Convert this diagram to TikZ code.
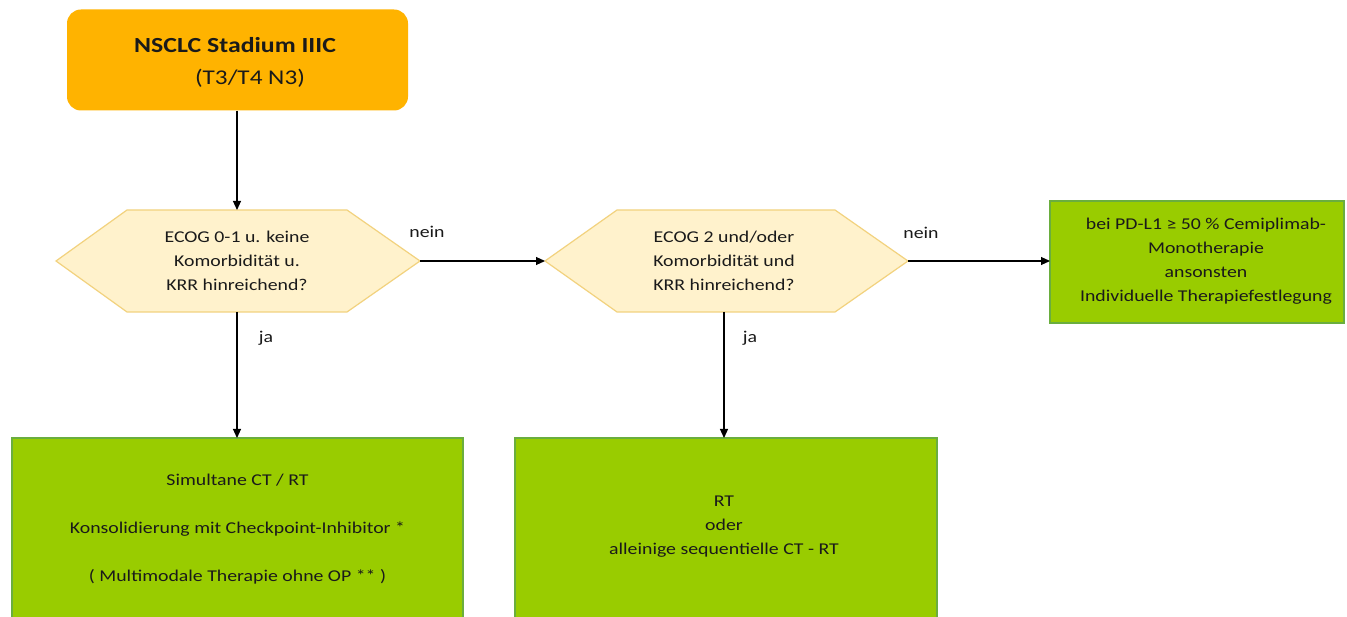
\documentclass[tikz,border=0pt]{standalone}
\usepackage{fontspec}
\setmainfont{Carlito}
\usetikzlibrary{arrows.meta,calc}
\definecolor{orangefill}{HTML}{FFB300}
\definecolor{hexfill}{HTML}{FFF2CC}
\definecolor{hexdraw}{HTML}{F2D27E}
\definecolor{greenfill}{HTML}{99CC00}
\definecolor{greendraw}{HTML}{6AAE3E}
\definecolor{txt}{HTML}{1A1A1A}
\tikzset{
  conn/.style={draw=black, line width=1.1pt, -{Triangle[length=9pt,width=8pt]}},
  hexshape/.style={fill=hexfill, draw=hexdraw, line width=1.2pt},
  greenbox/.style={fill=greenfill, draw=greendraw, line width=1.2pt},
  wide/.style={xscale=1.2, transform shape},
  smalltext/.style={wide, text=txt, font=\fontsize{16.5}{24}\selectfont, align=center, inner sep=0pt},
  lbl/.style={wide, text=txt, font=\fontsize{16.5}{20}\selectfont, inner sep=0pt},
}
\begin{document}
\begin{tikzpicture}[x=1pt,y=-1pt]
\useasboundingbox (0,0) rectangle (1347,617);
\fill[white] (0,0) rectangle (1347,617);
\begin{scope}
\clip (0,0) rectangle (1347,617);
% top box
\node[fill=orangefill, rounded corners=14pt, minimum width=341pt, minimum height=101pt, inner sep=0pt] (top) at (237.5,60) {};
\node[wide, text=txt, font=\fontsize{21.5}{26}\selectfont\bfseries, inner sep=0pt] (title) at (235,45) {NSCLC Stadium IIIC};
\node[wide, text=txt, font=\fontsize{21}{26}\selectfont, inner sep=0pt] (subtitle) at (250,78) {(T3/T4 N3)};
% hexagon 1
\coordinate (h1l) at (56,261);
\coordinate (h1r) at (420,261);
\coordinate (h1t) at (237,210);
\coordinate (h1b) at (237,312);
\draw[hexshape] (h1l) -- (127,210) -- (347,210) -- (h1r) -- (347,312) -- (127,312) -- cycle;
\node[smalltext] (q1) at (237,261) {ECOG 0-1 u. keine\\Komorbidität u.\\KRR hinreichend?};
% hexagon 2
\coordinate (h2l) at (545,261);
\coordinate (h2r) at (908,261);
\coordinate (h2t) at (724,210);
\coordinate (h2b) at (724,312);
\draw[hexshape] (h2l) -- (617,210) -- (835,210) -- (h2r) -- (835,312) -- (617,312) -- cycle;
\node[smalltext] (q2) at (724,261) {ECOG 2 und/oder\\Komorbidität und\\KRR hinreichend?};
% green box right
\draw[greenbox] (1050,201) rectangle (1344,323);
\coordinate (b3w) at (1050,261);
\node[smalltext] (t3) at (1206,261.5) {bei PD-L1 ≥ 50 \% Cemiplimab-\\Monotherapie\\ansonsten\\Individuelle Therapiefestlegung};
% green box 1
\draw[greenbox] (12,438) rectangle (463,660);
\coordinate (b1n) at (237,438);
\node[smalltext, font=\fontsize{16.5}{48}\selectfont] (t1) at (237.5,529) {Simultane CT / RT\\Konsolidierung mit Checkpoint-Inhibitor *\\( Multimodale Therapie ohne OP ** )};
% green box 2
\draw[greenbox] (515,438) rectangle (937,660);
\coordinate (b2n) at (724,438);
\node[smalltext] (t2) at (724,527) {RT\\oder\\alleinige sequentielle CT - RT};
\end{scope}
% connectors
\draw[conn] (top.south -| h1t) -- (h1t);
\draw[conn] (h1r) -- (h2l);
\draw[conn] (h2r) -- (b3w);
\draw[conn] (h1b) -- (b1n);
\draw[conn] (h2b) -- (b2n);
% labels
\node[lbl] (nein1) at (427,232) {nein};
\node[lbl] (nein2) at (921,233) {nein};
\node[lbl] (ja1) at (266,338) {ja};
\node[lbl] (ja2) at (750,338) {ja};
\end{tikzpicture}
\end{document}
